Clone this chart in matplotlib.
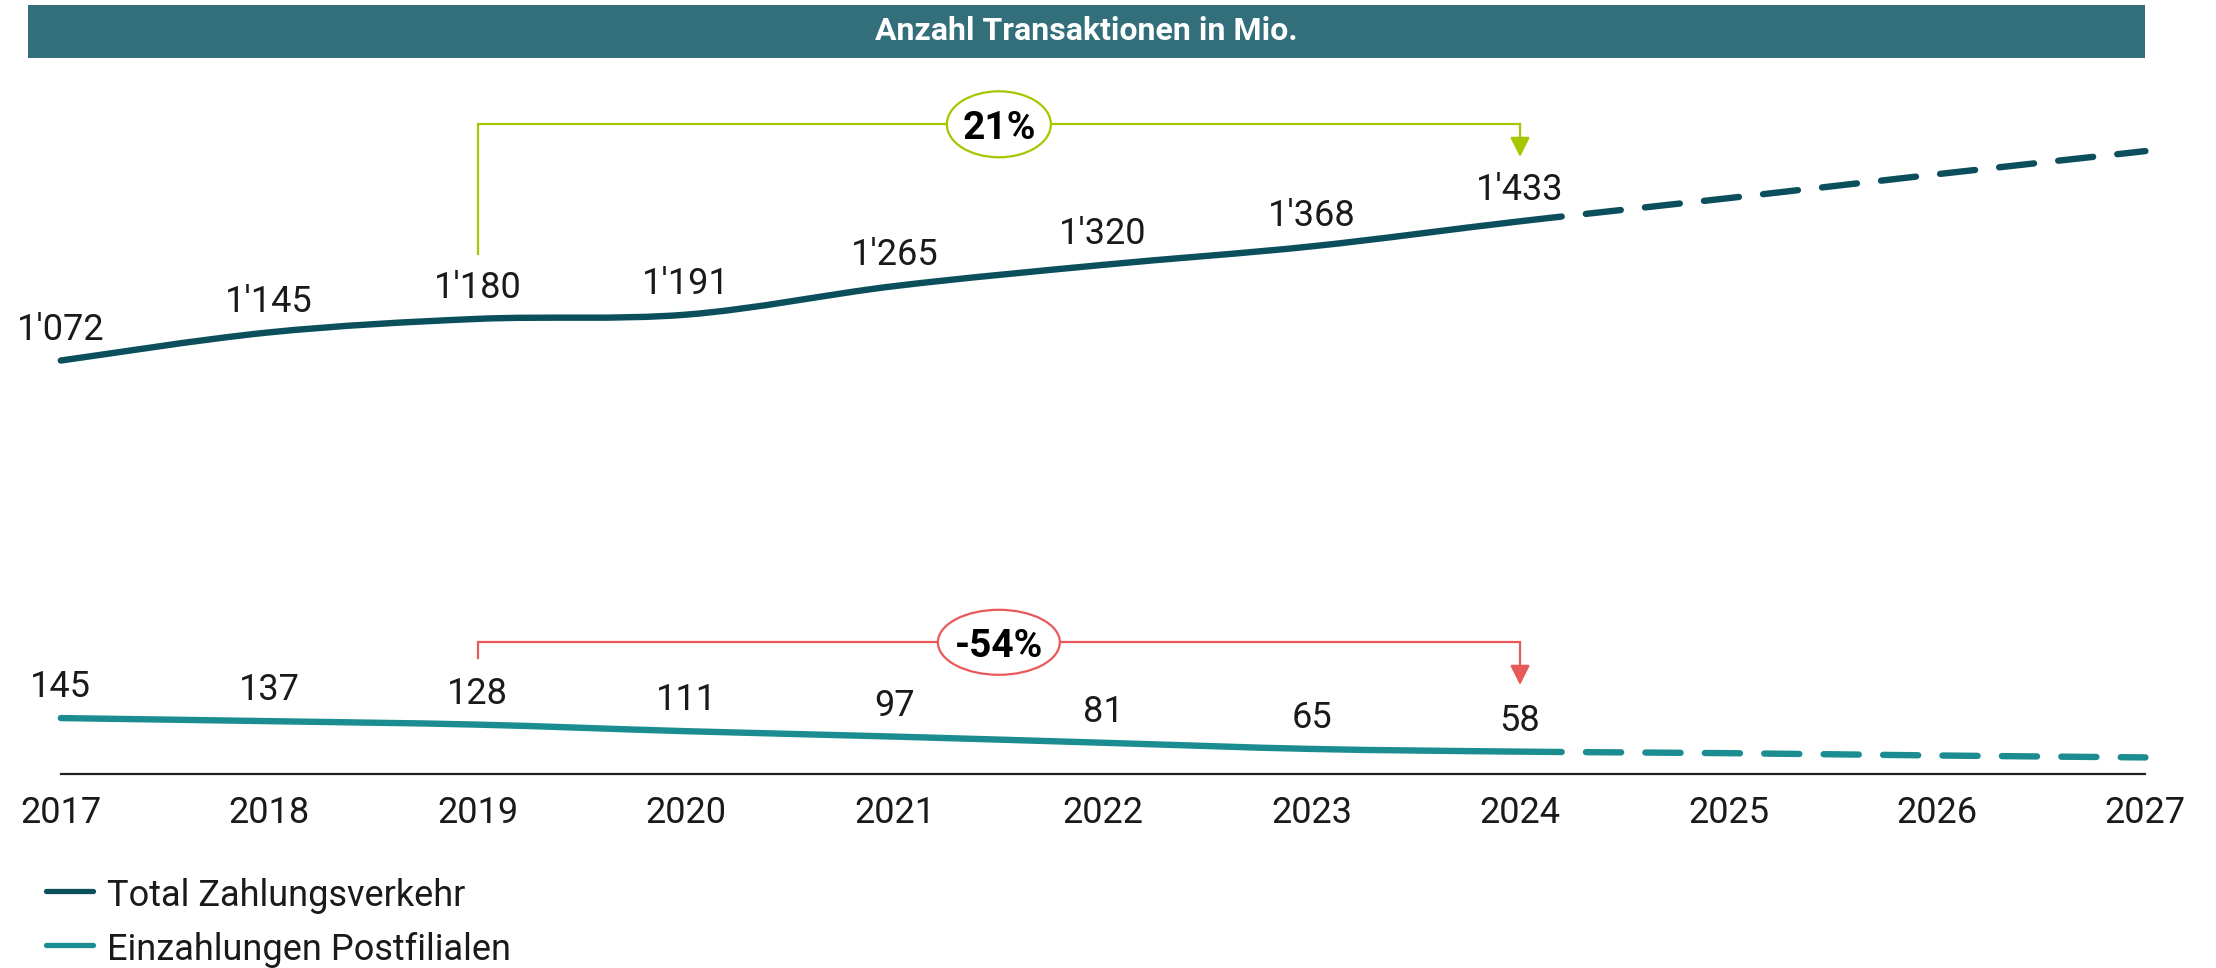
import numpy as np
import matplotlib
matplotlib.use("Agg")
import matplotlib.pyplot as plt
from matplotlib.path import Path
from matplotlib.patches import PathPatch, Rectangle, Ellipse, FancyArrowPatch
from matplotlib.lines import Line2D

plt.rcParams['font.family'] = ['Roboto', 'DejaVu Sans']

# ---------------- data ----------------
years = [2017, 2018, 2019, 2020, 2021, 2022, 2023, 2024, 2025, 2026, 2027]
total_actual = [1072, 1145, 1180, 1191, 1265, 1320, 1368, 1433]
total_forecast = [1493, 1555, 1615]
einz_actual = [145, 137, 128, 111, 97, 81, 65, 58]
einz_forecast = [54, 48, 43]
series_names = ["Total Zahlungsverkehr", "Einzahlungen Postfilialen"]
title = "Anzahl Transaktionen in Mio."
change_total = "21%"
change_einz = "-54%"
change_from, change_to = 2019, 2024
forecast_start = 2024.2

C_TOTAL = "#0b4f5d"
C_EINZ = "#1b8d90"
C_HEAD = "#336f7a"
C_GREEN = "#a6c700"
C_RED = "#e85a5a"
C_TEXT = "#1a1a1a"

W, H = 2216, 968
fig = plt.figure(figsize=(W / 100, H / 100), dpi=100)

# axes: x 2017 at px 60.8, 2027 at px 2145.4 ; y=0 at px 774, scale 0.3857 px/unit
x0_px, x1_px = 60.8, 2145.4
y0_px, ytop_px = 774.0, 60.0
px_per_unit = 0.3857
ymax = (y0_px - ytop_px) / px_per_unit
ax = fig.add_axes([x0_px / W, 1 - y0_px / H, (x1_px - x0_px) / W, (y0_px - ytop_px) / H])
ax.set_xlim(years[0], years[-1])
ax.set_ylim(0, ymax)
for s in ["left", "top", "right"]:
    ax.spines[s].set_visible(False)
ax.spines["bottom"].set_color("#222222")
ax.spines["bottom"].set_linewidth(1.6)
ax.set_yticks([])
ax.set_xticks(years)
ax.set_xticklabels([str(y) for y in years])
ax.tick_params(axis="x", length=0, pad=15, labelsize=26, labelcolor=C_TEXT)
ax.patch.set_alpha(0)


def catmull_segments(xs, ys):
    P = np.column_stack([xs, ys]).astype(float)
    n = len(P)
    segs = []
    for i in range(n - 1):
        pp = P[i - 1] if i > 0 else P[i]
        pn = P[i + 2] if i + 2 < n else P[i + 1]
        c1 = P[i] + (P[i + 1] - pp) / 6.0
        c2 = P[i + 1] - (pn - P[i]) / 6.0
        segs.append((P[i], c1, c2, P[i + 1]))
    return segs


def split_seg(seg, t):
    p0, p1, p2, p3 = seg
    a = p0 + (p1 - p0) * t
    b = p1 + (p2 - p1) * t
    c = p2 + (p3 - p2) * t
    d = a + (b - a) * t
    e = b + (c - b) * t
    f = d + (e - d) * t
    return (p0, a, d, f), (f, e, c, p3)


def make_path(segs):
    verts = [segs[0][0]]
    codes = [Path.MOVETO]
    for s in segs:
        verts += [s[1], s[2], s[3]]
        codes += [Path.CURVE4] * 3
    return Path(np.array(verts), codes)


def draw_series(actual, forecast, color, lw):
    vals = actual + forecast
    segs = catmull_segments(years, vals)
    k = int(np.floor(forecast_start)) - years[0]
    t = forecast_start - np.floor(forecast_start)
    left, right = split_seg(segs[k], t)
    solid = segs[:k] + [left]
    dashed = [right] + segs[k + 1:]
    p1 = PathPatch(make_path(solid), fill=False, edgecolor=color, lw=lw,
                   capstyle="round", joinstyle="round", clip_on=False, zorder=3)
    p2 = PathPatch(make_path(dashed), fill=False, edgecolor=color, lw=lw,
                   linestyle=(5.5, (5.5, 3.8)), capstyle="round",
                   joinstyle="round", clip_on=False, zorder=3)
    ax.add_patch(p1)
    ax.add_patch(p2)
    for yr, v in zip(years, actual):
        ax.annotate(f"{v:,}".replace(",", "'"), (yr, v), xytext=(0, 15),
                    textcoords="offset points", ha="center", va="baseline",
                    fontsize=26, color=C_TEXT, zorder=4)


draw_series(total_actual, total_forecast, C_TOTAL, 4.6)
draw_series(einz_actual, einz_forecast, C_EINZ, 4.6)


def px2val(py):
    return (y0_px - py) / px_per_unit


def bracket(y_start_px, y_bar_px, y_tip_px, color, text, ell_w_px, ell_h_px):
    yb = px2val(y_bar_px)
    ax.plot([change_from, change_from, change_to], [px2val(y_start_px), yb, yb],
            color=color, lw=1.6, solid_joinstyle="miter", clip_on=False, zorder=2)
    arr = FancyArrowPatch((change_to, yb), (change_to, px2val(y_tip_px)),
                          arrowstyle="-|>,head_length=0.6,head_width=0.3",
                          mutation_scale=20, color=color, lw=1.6,
                          shrinkA=0, shrinkB=0, clip_on=False, zorder=2)
    ax.add_patch(arr)
    xc = (change_from + change_to) / 2
    ell = Ellipse((xc, yb), ell_w_px / ((x1_px - x0_px) / (years[-1] - years[0])),
                  ell_h_px / px_per_unit, facecolor="white", edgecolor=color,
                  lw=1.6, clip_on=False, zorder=5)
    ax.add_patch(ell)
    ax.text(xc, yb, text, ha="center", va="center_baseline", fontsize=28,
            fontweight="bold", color="black", zorder=6)


bracket(254, 124.3, 157, C_GREEN, change_total, 104, 66)
bracket(658, 642.3, 685, C_RED, change_einz, 122, 65)

# header bar
fig.add_artist(Rectangle((28 / W, 1 - 58 / H), (2145 - 28) / W, 53 / H,
                         transform=fig.transFigure, facecolor=C_HEAD,
                         edgecolor="none", zorder=0))
fig.text((28 + 2145) / 2 / W, 1 - 31.5 / H, title, ha="center", va="center",
         color="white", fontsize=23, fontweight="bold")

# legend
for name, col, ly, by in [(series_names[0], C_TOTAL, 890.7, 905.7),
                          (series_names[1], C_EINZ, 945.0, 960.0)]:
    fig.add_artist(Line2D([46 / W, 93 / W], [1 - ly / H, 1 - ly / H],
                          transform=fig.transFigure, color=col, lw=3.8,
                          solid_capstyle="round"))
    fig.text(107 / W, 1 - by / H, name, ha="left", va="baseline",
             fontsize=26, color=C_TEXT)

fig.savefig("out.png", dpi=100)
